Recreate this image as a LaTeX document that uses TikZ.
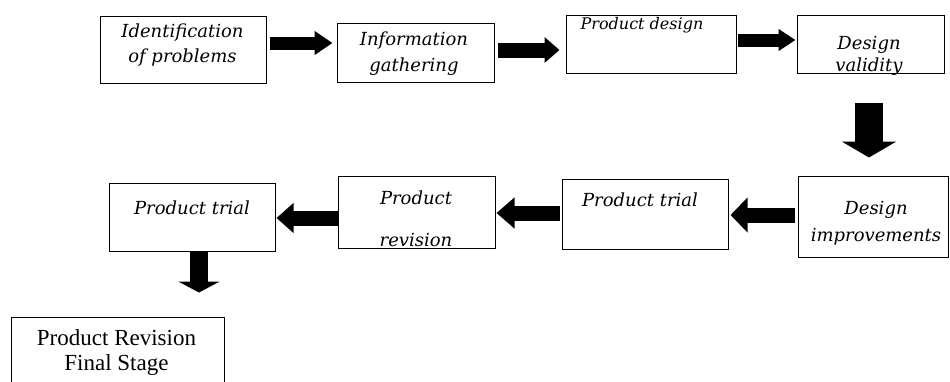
\documentclass[tikz,border=0pt]{standalone}
\usepackage{fontspec}
\setmainfont{Liberation Serif}
\newfontfamily\itserif{DejaVu Serif}
\usetikzlibrary{arrows.meta}

\tikzset{
  box/.style={draw, line width=1pt, inner sep=0pt},
  txt/.style={align=center, inner sep=0pt, font=\itserif\itshape\fontsize{18}{25}\selectfont},
  fat/.style={line width=14pt, -{Triangle[width=26pt, length=17pt]}},
}

\begin{document}
\begin{tikzpicture}[x=1pt, y=-1pt]
    \useasboundingbox (0,0) rectangle (950,381);

    % first row
    \node[box, minimum width=166, minimum height=67] (ident) at (183,49.5) {};
    \node[box, minimum width=157, minimum height=59] (info) at (415.5,52.5) {};
    \node[box, minimum width=170, minimum height=58] (design) at (651,44) {};
    \node[box, minimum width=147, minimum height=58] (valid) at (870.5,44) {};

    \node[txt] (ident-txt) at (182.5,45.5) {Identification\\of problems};
    \node[txt, font=\itserif\itshape\fontsize{18}{26}\selectfont] (info-txt) at (414,53.5) {Information\\gathering};
    \node[txt, font=\itserif\itshape\fontsize{16}{20}\selectfont] (design-txt) at (642,25.5) {Product design};
    \node[txt, font=\itserif\itshape\fontsize{18}{22}\selectfont] (valid-txt) at (869,56) {Design\\validity};

    % second row
    \node[box, minimum width=150, minimum height=81] (improve) at (873,216.5) {};
    \node[box, minimum width=166, minimum height=70] (trial) at (645,214) {};
    \node[box, minimum width=157, minimum height=72] (revise) at (416.5,212) {};
    \node[box, minimum width=166, minimum height=68] (trialb) at (192,217) {};

    \node[txt, font=\itserif\itshape\fontsize{18}{27}\selectfont] (improve-txt) at (876,223.5) {Design\\improvements};
    \node[txt] (trial-txt) at (640,200) {Product trial};
    \node[txt, font=\itserif\itshape\fontsize{18}{42}\selectfont] (revise-txt) at (416,219) {Product\\revision};
    \node[txt] (trialb-txt) at (192,208) {Product trial};

    % last stage
    \node[box, minimum width=213, minimum height=83] (final) at (117.5,358.5) {};
    \node[txt, font=\fontsize{23}{25}\selectfont] (final-txt) at (116.5,352.5) {Product Revision\\Final Stage};

    % arrows
    \draw[fat, line width=13pt, -{Triangle[width=23pt, length=18pt]}, shorten <=3pt, shorten >=4pt]
        ([yshift=6.5pt]ident.east) -- ([yshift=6.5pt]ident.east -| info.west);
    \draw[fat, line width=15pt, -{Triangle[width=25pt, length=15pt]}, shorten <=3pt, shorten >=6pt]
        ([yshift=2.5pt]info.east) -- ([yshift=2.5pt]info.east -| design.west);
    \draw[fat, line width=13pt, -{Triangle[width=21pt, length=17pt]}, shorten <=1pt, shorten >=1pt]
        ([yshift=4pt]design.east) -- ([yshift=4pt]design.east -| valid.west);
    \draw[fat, line width=28pt, -{Triangle[width=54pt, length=16pt]}, shorten <=29pt, shorten >=18pt]
        ([xshift=-1.5pt]valid.south) -- ([xshift=-1.5pt]valid.south |- improve.north);
    \draw[fat, line width=15pt, -{Triangle[width=34pt, length=17pt]}, shorten <=3pt, shorten >=2pt]
        ([yshift=1.5pt]improve.west) -- ([yshift=1.5pt]improve.west -| trial.east);
    \draw[fat, line width=15pt, -{Triangle[width=30pt, length=18pt]}, shorten <=2pt, shorten >=1pt]
        ([yshift=1pt]trial.west) -- ([yshift=1pt]trial.west -| revise.east);
    \draw[fat, line width=15pt, -{Triangle[width=29pt, length=17pt]}, shorten <=0pt, shorten >=1pt]
        ([yshift=-6pt]revise.west) -- ([yshift=-6pt]revise.west -| trialb.east);
    \draw[fat, line width=18pt, -{Triangle[width=41pt, length=11pt]}, shorten <=0pt, shorten >=24pt]
        ([xshift=7pt]trialb.south) -- ([xshift=7pt]trialb.south |- final.north);
\end{tikzpicture}
\end{document}
